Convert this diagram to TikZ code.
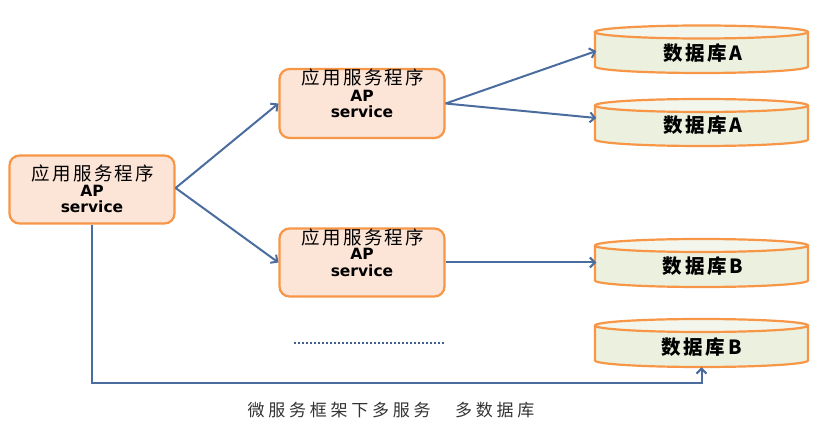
\documentclass[tikz,border=0pt]{standalone}
\usepackage{fontspec}
\usetikzlibrary{arrows.meta}
\newfontfamily\cjkbox[LetterSpace=12]{Noto Sans CJK SC}
\newfontfamily\cjkdb[LetterSpace=14]{Noto Sans CJK SC}
\newfontfamily\cjkcap[LetterSpace=22]{Noto Sans CJK SC}
\newfontfamily\latb{DejaVu Sans}
\definecolor{apfill}{HTML}{FCE4D6}
\definecolor{orangeline}{HTML}{F79646}
\definecolor{dbfill}{HTML}{EBF1DE}
\definecolor{dbtop}{HTML}{F3F6EC}
\definecolor{arrowblue}{HTML}{4A6C9F}
\definecolor{captext}{HTML}{333333}
\newcommand\dbcyl[3]{%
  \path[fill=dbfill, draw=orangeline, line width=2.2pt] (#1-106.5,#2) -- (#1-106.5,#3)
    arc[start angle=180, end angle=360, x radius=106.5pt, y radius=6.5pt] -- (#1+106.5,#2);
  \draw[draw=orangeline, line width=2.2pt, fill=dbtop] (#1,#2) ellipse[x radius=106.5pt, y radius=6.5pt];
}
\tikzset{
  apbox/.style={draw=orangeline, fill=apfill, line width=2.2pt, rounded corners=10pt,
    minimum width=165pt, minimum height=68pt, inner sep=0pt},
  zh/.style={font=\cjkbox\fontsize{18.5}{18.5}\selectfont, inner sep=0pt, text=black},
  en/.style={font=\latb\bfseries\fontsize{15.5}{15.5}\selectfont, inner sep=0pt, anchor=base, text=black},
  dbnode/.style={font=\cjkdb\bfseries\fontsize{19.5}{19.5}\selectfont, inner sep=0pt,
    minimum width=213pt, minimum height=40pt, text=black},
  link/.style={draw=arrowblue, line width=2pt, -{Straight Barb[length=5pt,width=10pt,line width=2pt]}},
  dots/.style={draw=arrowblue!90!black, line width=2pt, dash pattern=on 1.8pt off 2.2pt},
}
\begin{document}
\begin{tikzpicture}[x=1pt,y=-1pt]
\useasboundingbox (0,0) rectangle (830,435);
% application boxes
\node[apbox] (L) at (92,189.5) {};
\node[apbox, minimum height=69pt] (M1) at (362,103.5) {};
\node[apbox] (M2) at (362,262.5) {};
\node[zh] (Lz) at (93,173) {应用服务程序};
\node[en] (La) at (92,196.5) {AP};
\node[en] (Ls) at (92,212.5) {service};
\node[zh] (M1z) at (363,77) {应用服务程序};
\node[en] (M1a) at (362,101.5) {AP};
\node[en] (M1s) at (362,117.5) {service};
\node[zh] (M2z) at (363,237) {应用服务程序};
\node[en] (M2a) at (362,259.5) {AP};
\node[en] (M2s) at (362,276.5) {service};
% databases
\dbcyl{701.5}{32}{66.5}
\dbcyl{701.5}{105.5}{139.5}
\dbcyl{701.5}{245.5}{280.5}
\dbcyl{701.5}{325.5}{360.5}
\node[dbnode] (c1) at (703,53) {数据库A};
\node[dbnode] (c2) at (703,125) {数据库A};
\node[dbnode] (c3) at (703,266) {数据库B};
\node[dbnode] (c4) at (701.5,347) {数据库B};
% connectors
\draw[link] ([yshift=1.5pt]L.east) -- (M1.west);
\draw[link] ([yshift=1.5pt]L.east) -- (M2.west);
\draw[link] (M1.east) -- ([yshift=2pt]c1.west);
\draw[link] (M1.east) -- ([yshift=7pt]c2.west);
\draw[link] (M2.east) -- (M2.east -| c3.west);
\coordinate (base) at (0,383);
\draw[link] (L.south) -- (L.south |- base) -| (c4.south);
% dotted line
\coordinate (d1) at (294,343);
\coordinate (d2) at (445,343);
\draw[dots] (d1) -- (d2);
% caption
\node[font=\cjkcap\fontsize{17}{17}\selectfont, text=captext, inner sep=0pt] (cap) at (391,410) {微服务框架下多服务　多数据库};
\end{tikzpicture}
\end{document}
